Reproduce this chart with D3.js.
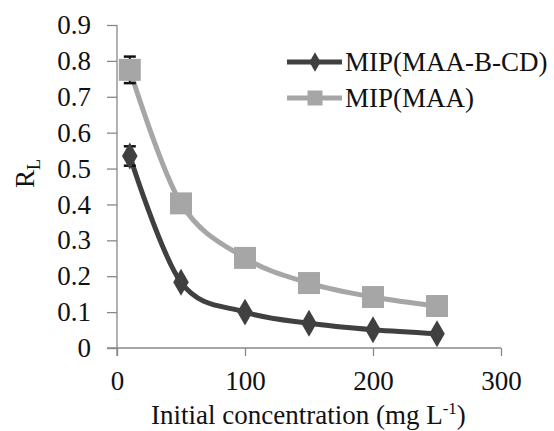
<!DOCTYPE html>
<html>
<head>
<meta charset="utf-8">
<script src="https://cdn.jsdelivr.net/npm/d3@7"></script>
<style>
  body { margin: 0; background: #fff; }
  svg { display: block; font-family: "Liberation Serif", "Times New Roman", serif; }
  .axis line { stroke: #888; stroke-width: 1.3; }
</style>
</head>
<body>
<div id="chart"></div>
<script>
// data
const conc = [10, 50, 100, 150, 200, 250];
const rlMaaBcd = [0.535, 0.183, 0.10, 0.069, 0.051, 0.040];
const rlMaa = [0.775, 0.403, 0.251, 0.181, 0.142, 0.117];
const errMaaBcd = [0.027, 0, 0, 0, 0, 0];
const errMaa = [0.037, 0, 0, 0, 0, 0];
const xTicks = [0, 100, 200, 300];
const yTicks = [0, 0.1, 0.2, 0.3, 0.4, 0.5, 0.6, 0.7, 0.8, 0.9];

const width = 554, height = 431;
const margin = { top: 25, left: 117, right: 53, bottom: 83 };
const serif = '"Liberation Serif", "Times New Roman", serif';

const svg = d3.select("#chart").append("svg")
  .attr("width", width)
  .attr("height", height);

/** SCALES */
const xScale = d3.scaleLinear().domain([0, 300]).range([margin.left, width - margin.right]);
const yScale = d3.scaleLinear().domain([0, 0.9]).range([height - margin.bottom, margin.top]);

/** AXES */
const yAxis = d3.axisLeft(yScale).tickValues(yTicks).tickSize(10).tickSizeOuter(0)
  .tickPadding(16).tickFormat(d => d === 0 ? "0" : d3.format(".1f")(d));
const xAxis = d3.axisBottom(xScale).tickValues(xTicks).tickSize(8).tickSizeOuter(0)
  .tickPadding(15).tickFormat(d3.format("d"));

const gy = svg.append("g").attr("class", "axis")
  .attr("transform", `translate(${margin.left},0)`)
  .call(yAxis)
  .attr("font-family", serif)
  .attr("font-size", 27);
gy.select(".domain").remove();

const gx = svg.append("g").attr("class", "axis")
  .attr("transform", `translate(0,${yScale(0)})`)
  .call(xAxis)
  .attr("font-family", serif)
  .attr("font-size", 27);
gx.select(".domain").remove();

svg.selectAll(".axis text").attr("fill", "#111");

// axis lines
svg.append("line")
  .attr("x1", xScale(0)).attr("x2", xScale(0))
  .attr("y1", yScale(0.9)).attr("y2", yScale(0) + 8)
  .attr("stroke", "#888").attr("stroke-width", 1.3);
svg.append("line")
  .attr("x1", xScale(0) - 10).attr("x2", xScale(300))
  .attr("y1", yScale(0)).attr("y2", yScale(0))
  .attr("stroke", "#888").attr("stroke-width", 1.3);

// axis titles
const xt = svg.append("text")
  .attr("x", 151).attr("y", 424)
  .attr("font-size", 27).attr("fill", "#111");
xt.append("tspan").text("Initial concentration (mg L");
xt.append("tspan").attr("font-size", 17).attr("dy", -10).text("-1");
xt.append("tspan").attr("dy", 10).text(")");

const yt = svg.append("text")
  .attr("transform", "translate(34,188) rotate(-90)")
  .attr("font-size", 27).attr("fill", "#111");
yt.append("tspan").text("R");
yt.append("tspan").attr("font-size", 18).attr("dy", 6).text("L");

/** SERIES */
const series = [
  { name: "MIP(MAA)", values: rlMaa, err: errMaa, color: "#a6a6a6", shape: "square" },
  { name: "MIP(MAA-B-CD)", values: rlMaaBcd, err: errMaaBcd, color: "#404040", shape: "diamond" }
];

const line = d3.line()
  .x(d => xScale(d[0]))
  .y(d => yScale(d[1]))
  .curve(d3.curveCardinal.tension(0));

series.forEach(s => {
  const pts = conc.map((c, i) => [c, s.values[i], s.err[i]]);

  svg.append("path")
    .datum(pts)
    .attr("d", line)
    .attr("fill", "none")
    .attr("stroke", s.color)
    .attr("stroke-width", 5);

  // error bars
  const eb = svg.append("g").selectAll("g")
    .data(pts.filter(d => d[2] > 0))
    .join("g");
  eb.append("line")
    .attr("x1", d => xScale(d[0])).attr("x2", d => xScale(d[0]))
    .attr("y1", d => yScale(d[1] - d[2])).attr("y2", d => yScale(d[1] + d[2]))
    .attr("stroke", "#111").attr("stroke-width", 2);
  eb.selectAll(".cap")
    .data(d => [d[1] - d[2], d[1] + d[2]].map(v => [d[0], v]))
    .join("line")
    .attr("x1", d => xScale(d[0]) - 6).attr("x2", d => xScale(d[0]) + 6)
    .attr("y1", d => yScale(d[1])).attr("y2", d => yScale(d[1]))
    .attr("stroke", "#111").attr("stroke-width", 2.5);

  const sym = s.shape === "square"
    ? d3.symbol().type(d3.symbolSquare).size(22 * 22)
    : d3.symbol().type(d3.symbolDiamond).size(210);

  svg.append("g").selectAll("path")
    .data(pts)
    .join("path")
    .attr("d", sym)
    .attr("transform", d => `translate(${xScale(d[0])},${yScale(d[1])})`)
    .attr("fill", s.color);
});

/** LEGEND */
const legend = [
  { name: "MIP(MAA-B-CD)", color: "#404040", shape: "diamond", y: 62 },
  { name: "MIP(MAA)", color: "#a6a6a6", shape: "square", y: 98 }
];
const lg = svg.append("g").selectAll("g").data(legend).join("g")
  .attr("transform", d => `translate(287,${d.y})`);
lg.append("line")
  .attr("x1", 0).attr("x2", 55)
  .attr("stroke", d => d.color).attr("stroke-width", 5);
lg.append("path")
  .attr("transform", "translate(28,0)")
  .attr("d", d => d.shape === "square"
    ? d3.symbol().type(d3.symbolSquare).size(15 * 15)()
    : d3.symbol().type(d3.symbolDiamond).size(110)())
  .attr("fill", d => d.color);
lg.append("text")
  .attr("x", 58).attr("y", 9)
  .attr("font-size", 27).attr("fill", "#111")
  .text(d => d.name);
</script>
</body>
</html>
